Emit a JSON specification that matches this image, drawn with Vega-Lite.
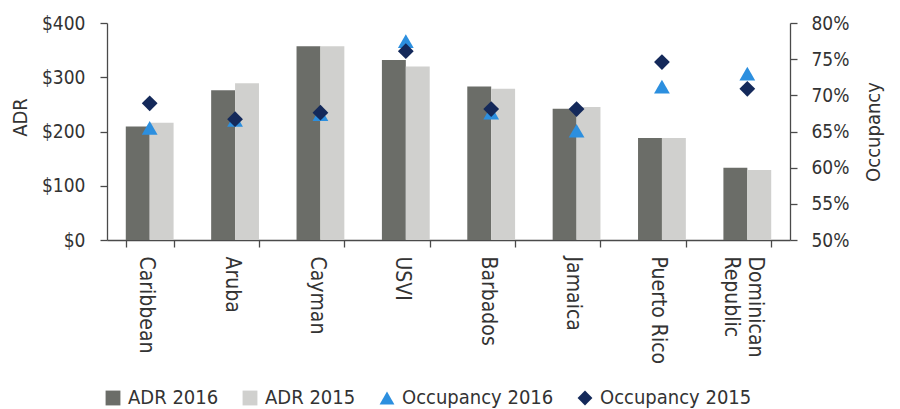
{
  "$schema": "https://vega.github.io/schema/vega-lite/v6.json",
  "width": 683,
  "height": 217,
  "autosize": {"type": "none"},
  "padding": {"left": 107, "top": 23, "right": 110, "bottom": 169},
  "background": "white",
  "config": {
    "view": {"stroke": null},
    "font": "DejaVu Sans Condensed",
    "axis": {
      "domainColor": "#4a4a4a",
      "tickColor": "#4a4a4a",
      "labelColor": "#333333",
      "titleColor": "#333333",
      "labelFontSize": 19,
      "titleFontSize": 20,
      "titleFontWeight": "normal",
      "grid": false,
      "tickSize": 7,
      "domainWidth": 1.3,
      "tickWidth": 1.3
    },
    "legend": {"labelFontSize": 20, "labelColor": "#333333", "padding": 0}
  },
  "data": {
    "values": [
      {"country": "Caribbean", "measure": "ADR", "series": "ADR 2016", "value": 209},
      {"country": "Aruba", "measure": "ADR", "series": "ADR 2016", "value": 276},
      {"country": "Cayman", "measure": "ADR", "series": "ADR 2016", "value": 357},
      {"country": "USVI", "measure": "ADR", "series": "ADR 2016", "value": 332},
      {"country": "Barbados", "measure": "ADR", "series": "ADR 2016", "value": 283},
      {"country": "Jamaica", "measure": "ADR", "series": "ADR 2016", "value": 242},
      {"country": "Puerto Rico", "measure": "ADR", "series": "ADR 2016", "value": 188},
      {"country": "Dominican Republic", "measure": "ADR", "series": "ADR 2016", "value": 133},
      {"country": "Caribbean", "measure": "ADR", "series": "ADR 2015", "value": 216},
      {"country": "Aruba", "measure": "ADR", "series": "ADR 2015", "value": 289},
      {"country": "Cayman", "measure": "ADR", "series": "ADR 2015", "value": 357},
      {"country": "USVI", "measure": "ADR", "series": "ADR 2015", "value": 320},
      {"country": "Barbados", "measure": "ADR", "series": "ADR 2015", "value": 279},
      {"country": "Jamaica", "measure": "ADR", "series": "ADR 2015", "value": 245},
      {"country": "Puerto Rico", "measure": "ADR", "series": "ADR 2015", "value": 188},
      {"country": "Dominican Republic", "measure": "ADR", "series": "ADR 2015", "value": 129},
      {"country": "Caribbean", "measure": "Occ", "series": "Occupancy 2016", "value": 0.655},
      {"country": "Aruba", "measure": "Occ", "series": "Occupancy 2016", "value": 0.666},
      {"country": "Cayman", "measure": "Occ", "series": "Occupancy 2016", "value": 0.674},
      {"country": "USVI", "measure": "Occ", "series": "Occupancy 2016", "value": 0.775},
      {"country": "Barbados", "measure": "Occ", "series": "Occupancy 2016", "value": 0.676},
      {"country": "Jamaica", "measure": "Occ", "series": "Occupancy 2016", "value": 0.651},
      {"country": "Puerto Rico", "measure": "Occ", "series": "Occupancy 2016", "value": 0.712},
      {"country": "Dominican Republic", "measure": "Occ", "series": "Occupancy 2016", "value": 0.73},
      {"country": "Caribbean", "measure": "Occ", "series": "Occupancy 2015", "value": 0.689},
      {"country": "Aruba", "measure": "Occ", "series": "Occupancy 2015", "value": 0.667},
      {"country": "Cayman", "measure": "Occ", "series": "Occupancy 2015", "value": 0.676},
      {"country": "USVI", "measure": "Occ", "series": "Occupancy 2015", "value": 0.761},
      {"country": "Barbados", "measure": "Occ", "series": "Occupancy 2015", "value": 0.681},
      {"country": "Jamaica", "measure": "Occ", "series": "Occupancy 2015", "value": 0.681},
      {"country": "Puerto Rico", "measure": "Occ", "series": "Occupancy 2015", "value": 0.746},
      {"country": "Dominican Republic", "measure": "Occ", "series": "Occupancy 2015", "value": 0.709}
    ]
  },
  "encoding": {
    "x": {
      "field": "country",
      "type": "nominal",
      "sort": null,
      "scale": {"paddingInner": 0.44, "paddingOuter": 0.22},
      "axis": {
        "title": null,
        "labelAngle": 90,
        "labelAlign": "left",
        "labelBaseline": "middle",
        "labelFontSize": 21,
        "labelPadding": 9,
        "labelOffset": {"condition": {"test": "datum.value == 'Dominican Republic'", "value": 7}, "value": -4},
        "labelLineHeight": 24,
        "tickBand": "extent",
        "labelExpr": "datum.value == 'Dominican Republic' ? ['Dominican', 'Republic'] : datum.value"
      }
    }
  },
  "layer": [
    {
      "transform": [{"filter": "datum.measure == 'ADR'"}],
      "mark": {"type": "bar"},
      "encoding": {
        "y": {
          "field": "value",
          "type": "quantitative",
          "scale": {"domain": [0, 400]},
          "axis": {"orient": "left", "title": "ADR", "format": "$,.0f", "values": [0, 100, 200, 300, 400], "labelPadding": 15, "titlePadding": 11, "titleY": 94}
        },
        "xOffset": {"field": "series", "sort": ["ADR 2016", "ADR 2015"], "scale": {"paddingInner": 0}},
        "color": {
          "field": "series",
          "type": "nominal",
          "scale": {
            "domain": ["ADR 2016", "ADR 2015", "Occupancy 2016", "Occupancy 2015"],
            "range": ["#6b6d68", "#d0d0ce", "#2c8fdf", "#14295a"]
          },
          "legend": {"title": null, "orient": "none", "direction": "horizontal", "legendX": -4, "legendY": 365, "symbolSize": 220, "columnPadding": 21, "labelOffset": 5}
        }
      }
    },
    {
      "transform": [{"filter": "datum.measure == 'Occ'"}],
      "mark": {"type": "point", "filled": true, "opacity": 1, "size": 250},
      "encoding": {
        "y": {
          "field": "value",
          "type": "quantitative",
          "scale": {"domain": [0.5, 0.8]},
          "axis": {"orient": "right", "title": "Occupancy", "titleAngle": 270, "titleBaseline": "top", "format": ".0%", "values": [0.5, 0.55, 0.6, 0.65, 0.7, 0.75, 0.8], "labelPadding": 14, "titlePadding": 15}
        },
        "color": {
          "field": "series",
          "type": "nominal",
          "scale": {
            "domain": ["ADR 2016", "ADR 2015", "Occupancy 2016", "Occupancy 2015"],
            "range": ["#6b6d68", "#d0d0ce", "#2c8fdf", "#14295a"]
          },
          "legend": {"title": null, "orient": "none", "direction": "horizontal", "legendX": -4, "legendY": 365, "symbolSize": 220, "columnPadding": 21, "labelOffset": 5}
        },
        "shape": {
          "field": "series",
          "type": "nominal",
          "scale": {
            "domain": ["ADR 2016", "ADR 2015", "Occupancy 2016", "Occupancy 2015"],
            "range": ["square", "square", "triangle-up", "diamond"]
          },
          "legend": {"title": null, "orient": "none", "direction": "horizontal", "legendX": -4, "legendY": 365, "symbolSize": 220, "columnPadding": 21, "labelOffset": 5}
        }
      }
    }
  ],
  "resolve": {"scale": {"y": "independent"}}
}
